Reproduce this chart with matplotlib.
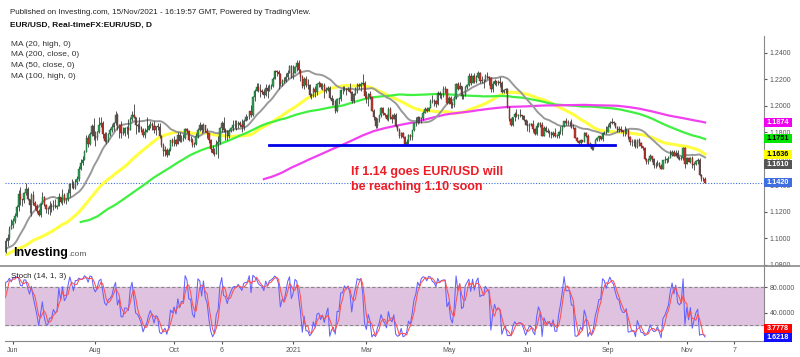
import numpy as np
import pandas as pd
import matplotlib
matplotlib.use("Agg")
import matplotlib.pyplot as plt
from matplotlib.lines import Line2D
from matplotlib.patches import Rectangle

plt.rcParams["font.family"] = ["Liberation Sans", "DejaVu Sans"]

# trading days in each month shown (Mar 2020 from the 5th, Nov 2021 up to the 15th)
months = ["2020-03", "2020-04", "2020-05", "2020-06", "2020-07", "2020-08", "2020-09",
          "2020-10", "2020-11", "2020-12", "2021-01", "2021-02", "2021-03", "2021-04",
          "2021-05", "2021-06", "2021-07", "2021-08", "2021-09", "2021-10", "2021-11"]
month_days = [19, 22, 21, 22, 23, 21, 22, 22, 21, 22, 20, 20, 23, 22, 21, 22, 22, 22, 22, 21, 11]

# daily EUR/USD closes, one line per month
close = [
    1.1237, 1.1284, 1.1428, 1.1283, 1.1270, 1.1180, 1.1105, 1.1185, 1.0994, 1.0920, 1.0690, 1.0695, 1.0722, 1.0790, 1.0885, 1.1030, 1.1141, 1.1045, 1.1030,
    1.0960, 1.0857, 1.0803, 1.0795, 1.0891, 1.0865, 1.0935, 1.0939, 1.0915, 1.0984, 1.0903, 1.0863, 1.0875, 1.0863, 1.0856, 1.0823, 1.0775, 1.0820, 1.0825, 1.0825, 1.0875, 1.0955,
    1.0980, 1.0905, 1.0840, 1.0795, 1.0835, 1.0840, 1.0805, 1.0850, 1.0815, 1.0805, 1.0820, 1.0915, 1.0925, 1.0975, 1.0945, 1.0900, 1.0900, 1.0980, 1.1005, 1.1075, 1.1100,
    1.1135, 1.1170, 1.1235, 1.1335, 1.1295, 1.1290, 1.1340, 1.1370, 1.1300, 1.1255, 1.1330, 1.1265, 1.1245, 1.1205, 1.1175, 1.1260, 1.1310, 1.1250, 1.1220, 1.1220, 1.1245, 1.1235,
    1.1250, 1.1240, 1.1245, 1.1310, 1.1275, 1.1330, 1.1285, 1.1300, 1.1340, 1.1410, 1.1410, 1.1380, 1.1425, 1.1445, 1.1525, 1.1570, 1.1595, 1.1655, 1.1755, 1.1715, 1.1790, 1.1845, 1.1775,
    1.1760, 1.1800, 1.1860, 1.1875, 1.1785, 1.1735, 1.1740, 1.1785, 1.1815, 1.1840, 1.1870, 1.1930, 1.1835, 1.1860, 1.1795, 1.1795, 1.1830, 1.1830, 1.1820, 1.1905, 1.1935,
    1.1915, 1.1855, 1.1850, 1.1835, 1.1815, 1.1780, 1.1800, 1.1815, 1.1845, 1.1865, 1.1845, 1.1815, 1.1845, 1.1840, 1.1770, 1.1705, 1.1660, 1.1670, 1.1630, 1.1665, 1.1745, 1.1720,
    1.1745, 1.1715, 1.1780, 1.1735, 1.1760, 1.1760, 1.1825, 1.1810, 1.1745, 1.1745, 1.1705, 1.1715, 1.1770, 1.1820, 1.1860, 1.1815, 1.1860, 1.1810, 1.1795, 1.1745, 1.1675, 1.1645,
    1.1640, 1.1715, 1.1725, 1.1830, 1.1875, 1.1815, 1.1810, 1.1775, 1.1810, 1.1835, 1.1855, 1.1860, 1.1855, 1.1870, 1.1855, 1.1840, 1.1890, 1.1915, 1.1915, 1.1960, 1.1930,
    1.2070, 1.2115, 1.2145, 1.2120, 1.2110, 1.2105, 1.2080, 1.2135, 1.2110, 1.2145, 1.2150, 1.2200, 1.2265, 1.2255, 1.2240, 1.2165, 1.2190, 1.2185, 1.2215, 1.2250, 1.2300, 1.2215,
    1.2250, 1.2295, 1.2325, 1.2270, 1.2220, 1.2150, 1.2205, 1.2155, 1.2155, 1.2080, 1.2075, 1.2130, 1.2105, 1.2165, 1.2170, 1.2140, 1.2160, 1.2110, 1.2120, 1.2135,
    1.2060, 1.2035, 1.2040, 1.1965, 1.2050, 1.2050, 1.2120, 1.2120, 1.2130, 1.2120, 1.2130, 1.2105, 1.2040, 1.2090, 1.2120, 1.2155, 1.2150, 1.2165, 1.2175, 1.2075,
    1.2050, 1.2090, 1.2065, 1.1965, 1.1915, 1.1845, 1.1900, 1.1930, 1.1985, 1.1950, 1.1930, 1.1900, 1.1980, 1.1915, 1.1905, 1.1935, 1.1850, 1.1815, 1.1770, 1.1795, 1.1765, 1.1715, 1.1730,
    1.1780, 1.1765, 1.1815, 1.1875, 1.1870, 1.1915, 1.1900, 1.1910, 1.1950, 1.1980, 1.1965, 1.1985, 1.2035, 1.2040, 1.2035, 1.2015, 1.2095, 1.2080, 1.2090, 1.2125, 1.2125, 1.2020,
    1.2060, 1.2015, 1.2005, 1.2065, 1.2165, 1.2130, 1.2150, 1.2075, 1.2080, 1.2145, 1.2155, 1.2225, 1.2175, 1.2225, 1.2180, 1.2215, 1.2250, 1.2190, 1.2195, 1.2195, 1.2225,
    1.2215, 1.2210, 1.2125, 1.2165, 1.2190, 1.2175, 1.2180, 1.2175, 1.2105, 1.2120, 1.2125, 1.1995, 1.1905, 1.1860, 1.1915, 1.1940, 1.1925, 1.1930, 1.1935, 1.1925, 1.1895, 1.1860,
    1.1850, 1.1865, 1.1865, 1.1825, 1.1790, 1.1845, 1.1875, 1.1860, 1.1775, 1.1835, 1.1810, 1.1805, 1.1800, 1.1780, 1.1795, 1.1770, 1.1770, 1.1800, 1.1820, 1.1845, 1.1885, 1.1870,
    1.1870, 1.1870, 1.1835, 1.1835, 1.1760, 1.1735, 1.1720, 1.1740, 1.1730, 1.1795, 1.1775, 1.1710, 1.1710, 1.1675, 1.1700, 1.1745, 1.1755, 1.1770, 1.1750, 1.1795, 1.1795, 1.1805,
    1.1840, 1.1875, 1.1880, 1.1870, 1.1840, 1.1815, 1.1825, 1.1815, 1.1805, 1.1805, 1.1815, 1.1765, 1.1725, 1.1725, 1.1725, 1.1690, 1.1740, 1.1720, 1.1695, 1.1685, 1.1600, 1.1580,
    1.1595, 1.1620, 1.1600, 1.1555, 1.1555, 1.1570, 1.1550, 1.1525, 1.1595, 1.1595, 1.1600, 1.1610, 1.1630, 1.1650, 1.1625, 1.1645, 1.1605, 1.1600, 1.1605, 1.1680, 1.1560,
    1.1605, 1.1580, 1.1610, 1.1555, 1.1565, 1.1585, 1.1595, 1.1480, 1.1445, 1.1445, 1.1420,
]
high = [
    1.1260, 1.1355, 1.1495, 1.1450, 1.1355, 1.1305, 1.1195, 1.1235, 1.1195, 1.1030, 1.0940, 1.0830, 1.0765, 1.0890, 1.0905, 1.1060, 1.1150, 1.1145, 1.1055,
    1.1035, 1.0965, 1.0865, 1.0830, 1.0925, 1.0900, 1.0955, 1.0955, 1.0935, 1.0990, 1.0990, 1.0925, 1.0900, 1.0885, 1.0885, 1.0875, 1.0835, 1.0830, 1.0870, 1.0890, 1.0890, 1.0975,
    1.1020, 1.0985, 1.0920, 1.0860, 1.0850, 1.0890, 1.0850, 1.0875, 1.0865, 1.0825, 1.0840, 1.0930, 1.0975, 1.0995, 1.1010, 1.0950, 1.0925, 1.1000, 1.1035, 1.1095, 1.1145,
    1.1155, 1.1195, 1.1255, 1.1365, 1.1385, 1.1300, 1.1350, 1.1420, 1.1390, 1.1300, 1.1345, 1.1355, 1.1285, 1.1260, 1.1225, 1.1270, 1.1350, 1.1320, 1.1260, 1.1240, 1.1285, 1.1270,
    1.1290, 1.1300, 1.1255, 1.1345, 1.1315, 1.1370, 1.1345, 1.1305, 1.1375, 1.1420, 1.1450, 1.1430, 1.1450, 1.1470, 1.1545, 1.1600, 1.1625, 1.1665, 1.1780, 1.1780, 1.1805, 1.1865, 1.1910,
    1.1810, 1.1810, 1.1915, 1.1915, 1.1885, 1.1805, 1.1805, 1.1795, 1.1830, 1.1865, 1.1880, 1.1965, 1.1945, 1.1865, 1.1885, 1.1840, 1.1840, 1.1850, 1.1900, 1.1915, 1.1965,
    1.2011, 1.1915, 1.1870, 1.1915, 1.1850, 1.1830, 1.1835, 1.1915, 1.1865, 1.1885, 1.1880, 1.1885, 1.1850, 1.1870, 1.1870, 1.1780, 1.1720, 1.1695, 1.1680, 1.1680, 1.1745, 1.1755,
    1.1770, 1.1750, 1.1800, 1.1805, 1.1780, 1.1785, 1.1830, 1.1830, 1.1815, 1.1770, 1.1755, 1.1730, 1.1795, 1.1830, 1.1880, 1.1865, 1.1870, 1.1860, 1.1830, 1.1765, 1.1750, 1.1705,
    1.1680, 1.1745, 1.1770, 1.1840, 1.1890, 1.1920, 1.1835, 1.1815, 1.1825, 1.1840, 1.1895, 1.1895, 1.1895, 1.1890, 1.1890, 1.1905, 1.1905, 1.1940, 1.1925, 1.1965, 1.2005,
    1.2075, 1.2130, 1.2175, 1.2175, 1.2165, 1.2130, 1.2130, 1.2165, 1.2160, 1.2165, 1.2165, 1.2220, 1.2275, 1.2275, 1.2270, 1.2245, 1.2200, 1.2215, 1.2245, 1.2275, 1.2310, 1.2310,
    1.2310, 1.2305, 1.2349, 1.2345, 1.2280, 1.2230, 1.2215, 1.2225, 1.2205, 1.2165, 1.2100, 1.2145, 1.2150, 1.2175, 1.2190, 1.2170, 1.2170, 1.2170, 1.2140, 1.2150,
    1.2150, 1.2080, 1.2060, 1.2045, 1.2060, 1.2065, 1.2125, 1.2150, 1.2150, 1.2135, 1.2145, 1.2170, 1.2110, 1.2095, 1.2145, 1.2170, 1.2170, 1.2180, 1.2243, 1.2185,
    1.2110, 1.2095, 1.2110, 1.2070, 1.1975, 1.1915, 1.1910, 1.1935, 1.1990, 1.1990, 1.1950, 1.1940, 1.1990, 1.1990, 1.1940, 1.1945, 1.1945, 1.1860, 1.1830, 1.1800, 1.1800, 1.1770, 1.1750,
    1.1790, 1.1790, 1.1820, 1.1880, 1.1915, 1.1925, 1.1920, 1.1920, 1.1960, 1.1995, 1.1995, 1.1995, 1.2050, 1.2080, 1.2055, 1.2045, 1.2115, 1.2115, 1.2095, 1.2150, 1.2150, 1.2125,
    1.2075, 1.2075, 1.2035, 1.2075, 1.2170, 1.2180, 1.2180, 1.2150, 1.2090, 1.2150, 1.2165, 1.2245, 1.2245, 1.2230, 1.2245, 1.2230, 1.2266, 1.2260, 1.2225, 1.2205, 1.2240,
    1.2255, 1.2225, 1.2215, 1.2185, 1.2200, 1.2190, 1.2195, 1.2215, 1.2185, 1.2125, 1.2135, 1.2135, 1.2000, 1.1910, 1.1920, 1.1955, 1.1975, 1.1940, 1.1975, 1.1935, 1.1930, 1.1900,
    1.1895, 1.1870, 1.1875, 1.1895, 1.1830, 1.1870, 1.1880, 1.1880, 1.1880, 1.1850, 1.1850, 1.1830, 1.1815, 1.1805, 1.1810, 1.1830, 1.1785, 1.1810, 1.1845, 1.1850, 1.1890, 1.1910,
    1.1895, 1.1890, 1.1900, 1.1865, 1.1840, 1.1765, 1.1745, 1.1750, 1.1745, 1.1800, 1.1805, 1.1785, 1.1725, 1.1715, 1.1705, 1.1750, 1.1765, 1.1775, 1.1770, 1.1805, 1.1810, 1.1845,
    1.1865, 1.1885, 1.1909, 1.1885, 1.1875, 1.1845, 1.1845, 1.1845, 1.1815, 1.1845, 1.1830, 1.1820, 1.1775, 1.1750, 1.1750, 1.1750, 1.1750, 1.1755, 1.1725, 1.1700, 1.1690, 1.1610,
    1.1610, 1.1640, 1.1625, 1.1605, 1.1575, 1.1595, 1.1580, 1.1560, 1.1595, 1.1625, 1.1610, 1.1625, 1.1670, 1.1665, 1.1665, 1.1670, 1.1665, 1.1625, 1.1620, 1.1692, 1.1690,
    1.1615, 1.1615, 1.1615, 1.1620, 1.1575, 1.1590, 1.1610, 1.1605, 1.1485, 1.1465, 1.1465,
]
low = [
    1.1135, 1.1215, 1.1275, 1.1255, 1.1255, 1.1145, 1.1055, 1.1095, 1.0965, 1.0890, 1.0655, 1.0670, 1.0636, 1.0720, 1.0780, 1.0880, 1.0960, 1.1030, 1.0965,
    1.0920, 1.0840, 1.0780, 1.0770, 1.0790, 1.0830, 1.0850, 1.0925, 1.0905, 1.0900, 1.0895, 1.0845, 1.0810, 1.0850, 1.0830, 1.0820, 1.0755, 1.0760, 1.0810, 1.0815, 1.0815, 1.0860,
    1.0940, 1.0895, 1.0830, 1.0780, 1.0780, 1.0825, 1.0795, 1.0795, 1.0800, 1.0775, 1.0770, 1.0815, 1.0880, 1.0925, 1.0935, 1.0880, 1.0870, 1.0890, 1.0945, 1.0990, 1.1070,
    1.1080, 1.1115, 1.1165, 1.1210, 1.1255, 1.1245, 1.1270, 1.1325, 1.1290, 1.1190, 1.1170, 1.1255, 1.1225, 1.1190, 1.1170, 1.1165, 1.1260, 1.1245, 1.1195, 1.1185, 1.1180, 1.1200,
    1.1215, 1.1230, 1.1220, 1.1245, 1.1270, 1.1255, 1.1265, 1.1260, 1.1280, 1.1315, 1.1380, 1.1370, 1.1375, 1.1400, 1.1435, 1.1515, 1.1555, 1.1590, 1.1650, 1.1690, 1.1705, 1.1775, 1.1745,
    1.1695, 1.1740, 1.1795, 1.1840, 1.1755, 1.1725, 1.1710, 1.1725, 1.1775, 1.1800, 1.1810, 1.1860, 1.1820, 1.1755, 1.1755, 1.1780, 1.1770, 1.1790, 1.1760, 1.1815, 1.1890,
    1.1910, 1.1790, 1.1805, 1.1805, 1.1800, 1.1765, 1.1755, 1.1800, 1.1830, 1.1835, 1.1820, 1.1795, 1.1780, 1.1820, 1.1755, 1.1690, 1.1625, 1.1625, 1.1612, 1.1630, 1.1660, 1.1695,
    1.1700, 1.1695, 1.1710, 1.1730, 1.1730, 1.1735, 1.1750, 1.1795, 1.1735, 1.1730, 1.1690, 1.1690, 1.1705, 1.1760, 1.1810, 1.1795, 1.1805, 1.1800, 1.1760, 1.1720, 1.1650, 1.1640,
    1.1620, 1.1645, 1.1605, 1.1710, 1.1800, 1.1800, 1.1745, 1.1745, 1.1760, 1.1800, 1.1810, 1.1830, 1.1815, 1.1830, 1.1840, 1.1805, 1.1820, 1.1885, 1.1895, 1.1905, 1.1920,
    1.1925, 1.2040, 1.2115, 1.2105, 1.2065, 1.2090, 1.2060, 1.2075, 1.2060, 1.2120, 1.2125, 1.2145, 1.2200, 1.2225, 1.2130, 1.2150, 1.2150, 1.2175, 1.2180, 1.2205, 1.2250, 1.2210,
    1.2200, 1.2245, 1.2265, 1.2245, 1.2190, 1.2135, 1.2130, 1.2140, 1.2130, 1.2070, 1.2055, 1.2070, 1.2070, 1.2085, 1.2140, 1.2125, 1.2120, 1.2060, 1.2095, 1.2110,
    1.2055, 1.2010, 1.2010, 1.1950, 1.1955, 1.2015, 1.2040, 1.2090, 1.2110, 1.2085, 1.2110, 1.2100, 1.2025, 1.2025, 1.2085, 1.2100, 1.2130, 1.2110, 1.2160, 1.2060,
    1.2020, 1.2000, 1.2050, 1.1960, 1.1895, 1.1835, 1.1835, 1.1880, 1.1920, 1.1935, 1.1915, 1.1895, 1.1885, 1.1905, 1.1875, 1.1900, 1.1840, 1.1810, 1.1760, 1.1760, 1.1760, 1.1705, 1.1704,
    1.1715, 1.1740, 1.1745, 1.1810, 1.1850, 1.1865, 1.1870, 1.1875, 1.1895, 1.1945, 1.1955, 1.1960, 1.1985, 1.2025, 1.2000, 1.1995, 1.2010, 1.2060, 1.2055, 1.2070, 1.2100, 1.2015,
    1.2015, 1.1985, 1.1985, 1.1995, 1.2055, 1.2120, 1.2130, 1.2050, 1.2050, 1.2075, 1.2125, 1.2150, 1.2160, 1.2170, 1.2170, 1.2170, 1.2210, 1.2175, 1.2170, 1.2135, 1.2190,
    1.2200, 1.2160, 1.2105, 1.2105, 1.2155, 1.2150, 1.2160, 1.2145, 1.2095, 1.2095, 1.2095, 1.1985, 1.1890, 1.1845, 1.1850, 1.1890, 1.1915, 1.1905, 1.1920, 1.1905, 1.1885, 1.1855,
    1.1810, 1.1805, 1.1845, 1.1805, 1.1780, 1.1780, 1.1840, 1.1840, 1.1770, 1.1770, 1.1800, 1.1795, 1.1765, 1.1755, 1.1765, 1.1765, 1.1760, 1.1760, 1.1790, 1.1780, 1.1840, 1.1855,
    1.1860, 1.1850, 1.1830, 1.1825, 1.1755, 1.1730, 1.1705, 1.1705, 1.1725, 1.1725, 1.1765, 1.1705, 1.1690, 1.1665, 1.1664, 1.1700, 1.1735, 1.1735, 1.1745, 1.1735, 1.1785, 1.1790,
    1.1800, 1.1835, 1.1865, 1.1860, 1.1830, 1.1800, 1.1800, 1.1805, 1.1770, 1.1770, 1.1785, 1.1750, 1.1705, 1.1700, 1.1700, 1.1685, 1.1685, 1.1700, 1.1680, 1.1670, 1.1590, 1.1565,
    1.1565, 1.1585, 1.1580, 1.1530, 1.1530, 1.1550, 1.1540, 1.1524, 1.1530, 1.1570, 1.1570, 1.1575, 1.1605, 1.1620, 1.1620, 1.1620, 1.1600, 1.1590, 1.1590, 1.1590, 1.1535,
    1.1560, 1.1575, 1.1570, 1.1530, 1.1515, 1.1555, 1.1560, 1.1470, 1.1430, 1.1435, 1.1415,
]

# last values shown in the coloured boxes on the right
price_box_values = [1.1874, 1.1751, 1.1636, 1.1610, 1.1420]
price_box_bg = ["#f000f0", "#00e600", "#ffff00", "#555555", "#3f6ee0"]
price_box_fg = ["white", "black", "black", "white", "white"]
stoch_box_values = [3.7778, 1.6218]
stoch_box_bg = ["#ff0000", "#1010ff"]

support_level = 1.1706
support_span = (202, 391)
current_price = 1.1420

date_labels = ["Jun", "Aug", "Oct", "6", "2021", "Mar", "May", "Jul", "Sep", "Nov", "7"]
date_months = ["2020-06", "2020-08", "2020-10", "2020-11", "2021-01", "2021-03",
               "2021-05", "2021-07", "2021-09", "2021-11", "2021-11"]
date_offsets = [0, 0, 0, 4, 0, 0, 0, 0, 0, 0, 26]

# ---- prepare series
c = np.array(close)
h = np.array(high)
l = np.array(low)
o = np.r_[c[0], c[:-1]]
h = np.maximum(h, np.maximum(o, c))
l = np.minimum(l, np.minimum(o, c))
x = np.arange(len(c))

sc, sh, sl = pd.Series(c), pd.Series(h), pd.Series(l)
ma20 = sh.rolling(20).mean()
ma200 = sc.rolling(200).mean()
ma50 = sc.rolling(50).mean()
ma100 = sh.rolling(100).mean()

lo14 = sl.rolling(14).min()
hi14 = sh.rolling(14).max()
k = (sc - lo14) / (hi14 - lo14) * 100
d = k.rolling(3).mean()

month_start = dict(zip(months, np.cumsum([0] + month_days[:-1])))
tick_pos = [month_start[m] + off for m, off in zip(date_months, date_offsets)]

W, H = 800, 357
fig = plt.figure(figsize=(W / 100, H / 100), dpi=100)
ax = fig.add_axes([5 / W, 1 - 266 / H, 759 / W, 230 / H])
ax2 = fig.add_axes([5 / W, 1 - 341 / H, 759 / W, 75 / H], sharex=ax)

x_min, x_max = 57.6, 472.2
ax.set_xlim(x_min, x_max)
ax.set_ylim(1.0792, 1.2528)

# moving averages
ax.plot(x, ma50, color="#ffff40", lw=2.2, zorder=2)
ax.plot(x, ma100, color="#40f040", lw=1.6, zorder=2)
ax.plot(x, ma200, color="#f040f0", lw=1.6, zorder=2)
ax.plot(x, ma20, color="#999999", lw=1.4, zorder=2)

# candles
up = c >= o
ax.vlines(x, l, h, color="#3a3a3a", lw=0.6, zorder=3)
ax.bar(x[up], (c - o)[up], bottom=o[up], width=0.7, color="#2f9e55",
       edgecolor="#1e5e34", lw=0.3, zorder=4)
ax.bar(x[~up], (c - o)[~up], bottom=o[~up], width=0.7, color="#c8382e",
       edgecolor="#6b1f1a", lw=0.3, zorder=4)

ax.plot(support_span, [support_level, support_level], color="#0000e6", lw=2, zorder=5)
ax.axhline(current_price, color="#3f6ee0", lw=0.8, ls=(0, (1, 1.5)), zorder=1)

ax.text(246.5, 1.1502, "If 1.14 goes EUR/USD will", color="#ee1c25", fontsize=9,
        fontweight="bold", va="center", ha="left")
ax.text(246.5, 1.1389, "be reaching 1.10 soon", color="#ee1c25", fontsize=9,
        fontweight="bold", va="center", ha="left")

ax.yaxis.tick_right()
ax.set_yticks(np.arange(1.08, 1.2401, 0.02))
ax.yaxis.set_major_formatter(plt.FormatStrFormatter("%.4f"))
ax.tick_params(axis="y", length=2, pad=2, labelsize=5, colors="#555555")
ax.tick_params(axis="x", bottom=False, labelbottom=False)
for side in ["top", "left", "bottom"]:
    ax.spines[side].set_visible(False)
ax.spines["right"].set_color("#888888")

# stochastic panel
ax2.set_ylim(-4.6, 112.9)
ax2.axhspan(20, 80, color="#dfc2df", zorder=0)
ax2.axhline(80, color="#888888", lw=0.8, ls=(0, (3, 2)))
ax2.axhline(20, color="#888888", lw=0.8, ls=(0, (3, 2)))
ax2.plot(x, k, color="#6262ff", lw=0.75)
ax2.plot(x, d, color="#ff5050", lw=0.75)
ax2.yaxis.tick_right()
ax2.set_yticks([40, 80])
ax2.yaxis.set_major_formatter(plt.FormatStrFormatter("%.4f"))
ax2.tick_params(axis="y", length=2, pad=2, labelsize=5, colors="#555555")
ax2.set_xticks(tick_pos)
ax2.set_xticklabels(date_labels)
ax2.tick_params(axis="x", length=2, pad=2, labelsize=5, colors="#555555")
for side in ["top", "left"]:
    ax2.spines[side].set_visible(False)
ax2.spines["right"].set_color("#888888")
ax2.spines["bottom"].set_color("#888888")
ax2.text(6 / 759, 0.86, "Stoch (14, 1, 3)", transform=ax2.transAxes, fontsize=5.8,
         color="#222222", va="center")

fig.add_artist(Line2D([0, 1], [1 - 266 / H] * 2, transform=fig.transFigure,
                      color="#8a8a8a", lw=1.2))


def value_box(py, text, bg, fg):
    fig.add_artist(Rectangle((764 / W, (py - 4.5) / H), 28 / W, 9 / H,
                             transform=fig.transFigure, fc=bg, ec="none", zorder=5))
    fig.text(778 / W, py / H, text, fontsize=5.2, fontweight="bold", color=fg,
             ha="center", va="center", zorder=6)


# value boxes on the right, pushed apart where they would overlap
fig.canvas.draw()
prev = None
for v, bg, fg in zip(price_box_values, price_box_bg, price_box_fg):
    py = ax.transData.transform((x_min, v))[1]
    if prev is not None and prev - py < 10:
        py = prev - 10
    prev = py
    value_box(py, "%.4f" % v, bg, fg)
prev = None
for v, bg in reversed(list(zip(stoch_box_values, stoch_box_bg))):
    py = ax2.transData.transform((x_min, v))[1]
    if prev is not None and py - prev < 9:
        py = prev + 9
    prev = py
    value_box(py, "%.4f" % v, bg, "white")

# header texts
fig.text(10 / W, 1 - 12 / H,
         "Published on Investing.com, 15/Nov/2021 - 16:19:57 GMT, Powered by TradingView.",
         fontsize=5.75, color="#222222", va="center")
fig.text(10 / W, 1 - 25 / H, "EUR/USD, Real-timeFX:EUR/USD, D", fontsize=6,
         fontweight="bold", color="#111111", va="center")
legend_lines = ["MA (20, high, 0)", "MA (200, close, 0)", "MA (50, close, 0)", "MA (100, high, 0)"]
for i, t in enumerate(legend_lines):
    fig.text(11 / W, 1 - (44 + 10.7 * i) / H, t, fontsize=6, color="#333333", va="center")

fig.text(13 / W, 1 - 253 / H, "Investing", fontsize=9, fontweight="bold", color="black",
         va="center")
fig.text(68 / W, 1 - 254 / H, ".com", fontsize=6, color="#555555", va="center")

fig.savefig("out.png", dpi=100)
